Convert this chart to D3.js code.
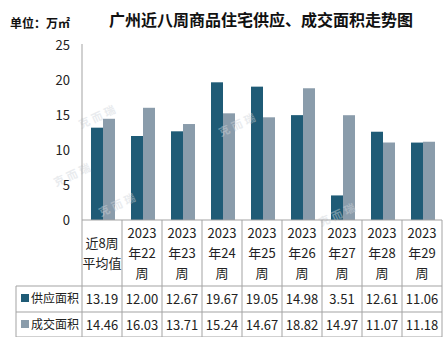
<!DOCTYPE html>
<html>
<head>
<meta charset="utf-8">
<script src="https://cdn.jsdelivr.net/npm/d3@7"></script>
<style>
  body { margin: 0; background: #fff; }
  svg text { font-family: "Noto Sans CJK SC", "Noto Sans", sans-serif; }
</style>
</head>
<body>
<div class="chart"></div>
<script>
// 广州近八周商品住宅供应、成交面积

const categories = ['近8周平均值', '2023年22周', '2023年23周', '2023年24周', '2023年25周',
  '2023年26周', '2023年27周', '2023年28周', '2023年29周']
const headerLines = [['近8周', '平均值'], ['2023', '年22', '周'], ['2023', '年23', '周'],
  ['2023', '年24', '周'], ['2023', '年25', '周'], ['2023', '年26', '周'],
  ['2023', '年27', '周'], ['2023', '年28', '周'], ['2023', '年29', '周']]
const seriesNames = ['供应面积', '成交面积']
const supply = [13.19, 12.00, 12.67, 19.67, 19.05, 14.98, 3.51, 12.61, 11.06]
const deals = [14.46, 16.03, 13.71, 15.24, 14.67, 18.82, 14.97, 11.07, 11.18]
const yTicks = [0, 5, 10, 15, 20, 25]

const W = 443, H = 337
const colors = ['#1f5b76', '#8a9cab']
const lineColor = '#a3a3a3'

const svg = d3.select('.chart').append('svg')
  .attr('width', W)
  .attr('height', H)

const x = d3.scaleBand().domain(categories).range([82, 442])
const x1 = d3.scaleBand().domain(seriesNames).range([9, 33])
const y = d3.scaleLinear().domain([0, 25]).range([220, 45])

// title and unit
svg.append('text')
  .attr('x', 261).attr('y', 26)
  .attr('text-anchor', 'middle')
  .style('font-size', '16px').style('font-weight', 'bold').style('fill', '#111')
  .text('广州近八周商品住宅供应、成交面积走势图')

svg.append('text')
  .attr('x', 10).attr('y', 28)
  .style('font-size', '12px').style('font-weight', 'bold').style('fill', '#111')
  .text('单位：万㎡')

// bars
const rows = categories.map((c, i) => ({ cat: c, values: [supply[i], deals[i]] }))

svg.append('g').selectAll('g')
  .data(rows)
  .join('g')
    .attr('transform', d => `translate(${x(d.cat)},0)`)
  .selectAll('rect')
  .data(d => d.values.map((v, k) => ({ name: seriesNames[k], v, k })))
  .join('rect')
    .attr('x', d => x1(d.name))
    .attr('width', x1.bandwidth())
    .attr('y', d => y(d.v))
    .attr('height', d => y(0) - y(d.v))
    .attr('fill', d => colors[d.k])

// watermarks
const marks = [[100, 120], [75, 178], [120, 208], [240, 128], [340, 218]]
svg.append('g').selectAll('text')
  .data(marks)
  .join('text')
    .attr('transform', d => `translate(${d[0]},${d[1]}) rotate(-25)`)
    .attr('text-anchor', 'middle')
    .style('font-size', '11px').style('font-weight', 'bold')
    .style('letter-spacing', '3px')
    .style('fill', '#cfd5db').style('opacity', 0.45)
    .text('克而瑞')

// y axis
const yAxis = d3.axisLeft(y).tickValues(yTicks).tickSize(0).tickPadding(12)
const gy = svg.append('g')
  .attr('transform', 'translate(82,0)')
  .call(yAxis)
gy.select('.domain').attr('stroke', lineColor).attr('d', 'M0,44V220')
gy.selectAll('.tick text').style('font-size', '13px').style('fill', '#222')

// data table
const table = svg.append('g')

// grid lines
table.append('line').attr('x1', 82).attr('x2', 442).attr('y1', 220).attr('y2', 220)
table.append('line').attr('x1', 16).attr('x2', 442).attr('y1', 286).attr('y2', 286)
table.append('line').attr('x1', 16).attr('x2', 442).attr('y1', 312).attr('y2', 312)
table.append('line').attr('x1', 16).attr('x2', 442).attr('y1', 337).attr('y2', 337)
table.append('line').attr('x1', 16).attr('x2', 16).attr('y1', 286).attr('y2', 337)
table.append('line').attr('x1', 82).attr('x2', 82).attr('y1', 220).attr('y2', 337)
table.selectAll('.col')
  .data(categories)
  .join('line')
    .attr('class', 'col')
    .attr('x1', d => x(d) + x.bandwidth())
    .attr('x2', d => x(d) + x.bandwidth())
    .attr('y1', 220).attr('y2', 337)
table.selectAll('line').attr('stroke', lineColor).attr('stroke-width', 1)

// header cells
table.selectAll('.head')
  .data(categories)
  .join('text')
    .attr('class', 'head')
    .attr('text-anchor', 'middle')
    .style('font-size', '13px').style('fill', '#222')
    .each(function (d, i) {
      const lines = headerLines[i]
      const top = 258 - (lines.length - 1) * 10
      d3.select(this).selectAll('tspan')
        .data(lines)
        .join('tspan')
          .attr('x', x(d) + x.bandwidth() / 2)
          .attr('y', (l, j) => top + j * 20)
          .text(l => l)
    })

// value rows with legend keys
const series = [supply, deals]
series.forEach((vals, k) => {
  const rowY = 286 + k * 26
  table.append('rect')
    .attr('x', 21).attr('y', rowY + 8)
    .attr('width', 8).attr('height', 8)
    .attr('fill', colors[k])
  table.append('text')
    .attr('x', 31).attr('y', rowY + 17)
    .style('font-size', '12px').style('fill', '#222')
    .text(seriesNames[k])
  table.selectAll('.v' + k)
    .data(vals)
    .join('text')
      .attr('class', 'v' + k)
      .attr('x', (v, i) => x(categories[i]) + x.bandwidth() / 2)
      .attr('y', rowY + 18)
      .attr('text-anchor', 'middle')
      .style('font-size', '13px').style('fill', '#222')
      .text(v => v.toFixed(2))
})
</script>
</body>
</html>
